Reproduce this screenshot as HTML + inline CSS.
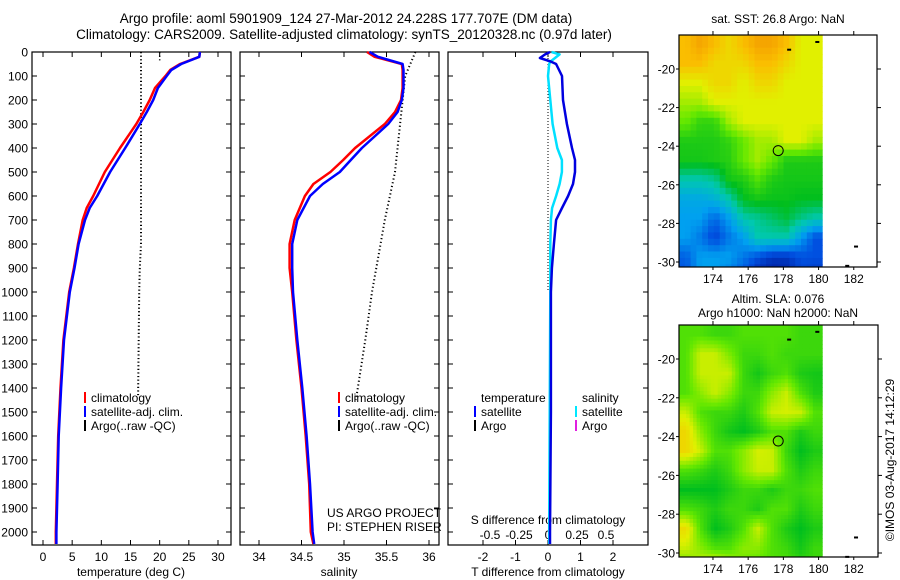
<!DOCTYPE html>
<html><head><meta charset="utf-8">
<style>
body{margin:0;background:#fff;}
svg{display:block;font-family:"Liberation Sans",sans-serif;}
text{fill:#000;}
</style></head>
<body>
<svg id="c" width="900" height="580" viewBox="0 0 900 580" xmlns="http://www.w3.org/2000/svg">
<defs>
<clipPath id="clip-sst"><rect x="679" y="35" width="198" height="232"/></clipPath>
<clipPath id="clip-sla"><rect x="679" y="325" width="199" height="232"/></clipPath>
</defs>
<g font-size="13.5" text-anchor="middle">
<text x="346" y="23">Argo profile: aoml 5901909_124 27-Mar-2012 24.228S 177.707E (DM data)</text>
<text x="344" y="39">Climatology: CARS2009. Satellite-adjusted climatology: synTS_20120328.nc (0.97d later)</text>
</g>
<text x="778" y="23" font-size="12" text-anchor="middle">sat. SST: 26.8 Argo: NaN</text>
<text x="778" y="303" font-size="12" text-anchor="middle">Altim. SLA: 0.076</text>
<text x="778" y="317" font-size="12" text-anchor="middle">Argo h1000: NaN h2000: NaN</text>
<text transform="translate(894,460) rotate(-90)" font-size="12" text-anchor="middle">©IMOS 03-Aug-2017 14:12:29</text>
</svg>
<script>
// ---- profile data ----
const depths = [0,20,50,75,100,150,200,250,300,400,500,600,650,700,800,900,1000,1200,1400,1600,1800,2000,2050];
const tempClim = [26.9,26.8,23.5,21.8,21.0,19.2,18.3,17.2,16.0,13.2,10.6,8.6,7.5,6.8,6.0,5.3,4.5,3.5,3.0,2.6,2.4,2.2,2.2];
const tempSat  = [26.9,26.8,23.7,22.0,21.2,19.7,18.9,17.8,16.6,14.1,11.5,9.3,8.0,7.2,6.1,5.4,4.6,3.6,3.1,2.7,2.5,2.3,2.3];
const argoTempDepths = [0,300,600,800,900,1000,1200,1430];
const argoTemp = [16.8,16.8,16.8,16.8,16.6,16.5,16.4,16.3];
const salDepths = [0,20,50,75,100,150,200,250,300,400,450,500,550,600,700,800,900,1000,1200,1400,1600,1800,2000,2050];
const salClim = [35.27,35.36,35.68,35.69,35.69,35.69,35.67,35.60,35.48,35.13,34.99,34.84,34.64,34.54,34.42,34.36,34.36,34.39,34.44,34.50,34.55,34.59,34.61,34.64];
const salSat  = [35.30,35.40,35.69,35.70,35.70,35.70,35.68,35.63,35.52,35.21,35.08,34.95,34.75,34.60,34.45,34.39,34.39,34.40,34.45,34.51,34.56,34.60,34.63,34.65];
const argoSalDepths = [0,100,300,500,700,900,1000,1200,1450];
const argoSal = [35.84,35.72,35.66,35.60,35.48,35.38,35.33,35.25,35.14];
const diffDepths = [0,10,25,40,50,100,200,300,400,450,500,550,600,650,700,800,900,1000,1500,2000,2050];
const tDiffSat = [0.06,-0.09,-0.25,0.09,0.25,0.43,0.46,0.58,0.74,0.83,0.83,0.77,0.62,0.43,0.25,0.18,0.12,0.09,0.09,0.06,0.06];
const sDiffSat = [0.03,0.10,0.06,0.02,0.01,0.0,0.02,0.04,0.08,0.12,0.12,0.10,0.07,0.035,0.025,0.02,0.02,0.02,0.015,0.01,0.01];
const depthTicks = [0,100,200,300,400,500,600,700,800,900,1000,1100,1200,1300,1400,1500,1600,1700,1800,1900,2000];
const tempTicks = [0,5,10,15,20,25,30];
const salTicks = [34,34.5,35,35.5,36];
const tDiffTicks = [-2,-1,0,1,2];
const sDiffTicks = [-0.5,-0.25,0,0.25,0.5];
const latTicks = [-20,-22,-24,-26,-28,-30];
const lonTicks = [174,176,178,180,182];
// ---- map grids (10 cols lon 172.07-180.2, 13 rows 1 deg from top) ----
const sstGrid = [
[7,7.5,7,6.5,7,7.5,7.5,7,6,6],[7,7,6.5,6.5,6.5,7,7,6.5,6,6],[6,6,6.5,6.5,6,6.5,6.5,6,6,6],[5.5,5.5,6,6,6,6,6,6,6,6],
[5,4.5,4.5,5.5,6,6,6,6,6,6],[4.3,4.3,4.3,4.5,5,5.5,5.5,6,6,5.5],[4.2,4.2,4.3,4.4,5,5.5,5,4.3,4.3,4.3],[3,3,3.2,4.2,4.3,4.8,4.3,4.2,4.2,4.2],
[2.2,2.2,2.4,3,4,4.2,4.1,4.1,4,4],[2,2,1.3,2,3,3.2,3.5,3.8,3.3,3],[2,1.5,0.8,1.5,2,3,3,3,2,1],[1.2,2,2,2,1.5,1,0.6,0.6,1,1],[1,2,2,1.5,1,0.3,0.2,0.3,0.8,0.6]];
const slaGrid = [
[4.8,4.8,4.6,4.6,4.8,4.8,4.8,4.8,4.6,4.6],[4.8,5.8,5.8,5.2,4.6,4.6,4.8,4.6,4.6,4.6],[4.8,5.8,5.8,5.8,4.6,4.2,4.6,4.8,4.3,4.2],[4.8,5.3,5.8,5.3,4.6,4.6,5.3,5.8,4.8,4.3],
[5.8,4.8,4.6,4.6,4.3,4.8,5.8,5.9,5.8,4.8],[6.5,5.3,4.6,4.2,4,4.3,4.8,4.8,4.3,4.6],[6.5,5.8,4.8,4.8,5.3,5.9,5.8,4.6,4,4.3],[4.8,4.6,4.3,4.6,5.3,5.8,5.8,4.8,4.3,4.6],
[4,4,4,4.3,4.6,4.6,4.3,4.6,4.6,4.8],[4.8,4.6,4.3,4.6,4.6,4.3,4.8,4.8,4.3,4.6],[6.4,4.8,4,4.3,4.8,5.8,4.8,4.3,4,4.3],[5.8,5.3,4.8,4.8,5.3,5.3,4.8,4.6,4.2,4.6],[5,5.8,6.3,5.8,5,4.8,4.8,4.8,4.6,4.6]];
const argoLon = 177.707, argoLat = -24.228, sstValue = 26.8;

const S = document.getElementById('c');
const NS = 'http://www.w3.org/2000/svg';
function mk(tag, attrs, parent){const e=document.createElementNS(NS,tag);for(const k in attrs)e.setAttribute(k,attrs[k]);(parent||S).appendChild(e);return e;}
function txt(x,y,s,anchor,size,parent){const t=mk('text',{x:x,y:y,'font-size':size||12,'text-anchor':anchor||'start'},parent);t.textContent=s;return t;}

const TOP=52, BOT=545;
const yD = d => TOP + d*0.24;
const panels = [
 {x0:32,x1:231, f:v=>43+v*5.833},
 {x0:240,x1:439, f:v=>259+(v-34)*85},
 {x0:448,x1:648, f:v=>548+v*32.5}
];
const sx = v=>548+v*116;

function line(xs, ds, f, color, w, dash, name, parent){
  const p = xs.map((v,i)=>(f(v)).toFixed(1)+','+yD(ds[i]).toFixed(1)).join(' ');
  const e = mk('polyline',{points:p,fill:'none',stroke:color,'stroke-width':w,'stroke-linejoin':'round'},parent);
  if(dash) e.setAttribute('stroke-dasharray',dash);
  
  
  return e;
}

panels.forEach((P,pi)=>{
  const g = mk('g',{});
  
  
  const fr = mk('rect',{x:P.x0,y:TOP,width:P.x1-P.x0,height:BOT-TOP,fill:'none',stroke:'#000','stroke-width':1.2},g);
  
  
  depthTicks.forEach(d=>{
    mk('line',{x1:P.x0,x2:P.x0+5,y1:yD(d),y2:yD(d),stroke:'#000'},g);
    mk('line',{x1:P.x1,x2:P.x1-5,y1:yD(d),y2:yD(d),stroke:'#000'},g);
    if(pi===0){const t=txt(28,yD(d)+4.5,String(d),'end',12,g);
      
      }
  });
});
function xTicks(ticks,f,y){
  ticks.forEach(v=>{const x=f(v);
    mk('line',{x1:x,x2:x,y1:TOP,y2:TOP+5,stroke:'#000'});
    mk('line',{x1:x,x2:x,y1:BOT,y2:BOT-5,stroke:'#000'});
    const t=txt(x,y,String(v),'middle',12);
    
    
  });
}
xTicks(tempTicks,panels[0].f,561);
xTicks(salTicks,panels[1].f,561);
xTicks(tDiffTicks,panels[2].f,561);
sDiffTicks.forEach(v=>{const t=txt(sx(v),539,String(v),'middle',12);
  
  });
[['temperature (deg C)',131],['salinity',339],['T difference from climatology',548]].forEach(a=>{
  const t=txt(a[1],576,a[0],'middle',12);
  
  });
{const t=txt(548,524,'S difference from climatology','middle',12);
 
 }

line(argoTemp,argoTempDepths,panels[0].f,'#000',2,'1.2,2.4','argo-temperature-line');
line([20,20],[0,35],panels[0].f,'#000',1.5,'1.2,2.4','argo-temperature-surface-dots');
line(tempClim,depths,panels[0].f,'#f00',2.5,null,'temperature-climatology-line');
line(tempSat,depths,panels[0].f,'#00f',2.5,null,'temperature-satellite-line');
line(argoSal,argoSalDepths,panels[1].f,'#000',2,'1.2,2.6','argo-salinity-line');
line(salClim,salDepths,panels[1].f,'#f00',2.5,null,'salinity-climatology-line');
line(salSat,salDepths,panels[1].f,'#00f',2.5,null,'salinity-satellite-line');
line([0,0],[0,1000],panels[2].f,'#000',1,'1,2','zero-difference-line');
line(sDiffSat,diffDepths,sx,'#00e0ff',2.5,null,'salinity-difference-line');
line(tDiffSat,diffDepths,panels[2].f,'#0000e0',2.5,null,'temperature-difference-line');

function legItem(x,y,color,label){
  const g=mk('g',{});
  
  
  mk('line',{x1:x,x2:x,y1:y-10,y2:y+1,stroke:color,'stroke-width':2},g);
  txt(x+6,y,label,'start',12,g);
}
[85,339].forEach(x=>{
  legItem(x,402,'#f00','climatology');
  legItem(x,416,'#00f','satellite-adj. clim.');
  legItem(x,430,'#000','Argo(..raw -QC)');
});
{const t=txt(481,402,'temperature','start',12);
 const t2=txt(582,402,'salinity','start',12);}
legItem(475,416,'#00f','satellite');
legItem(475,430,'#000','Argo');
legItem(576,416,'#00e8ff','satellite');
legItem(576,430,'#e020e0','Argo');
{const t=txt(327,517,'US ARGO PROJECT','start',12);
 const t2=txt(327,531,'PI: STEPHEN RISER','start',12);}

const cmapStops=[[0,[0,16,140]],[1,[0,80,224]],[2,[0,160,240]],[3,[0,200,176]],[4,[0,190,30]],[5,[100,232,0]],[6,[225,240,0]],[7,[250,190,0]],[8,[240,140,0]]];
function cmap(v){v=Math.max(0,Math.min(8,v));const i=Math.min(7,Math.floor(v)),f=v-i;
  const a=cmapStops[i][1],b=cmapStops[i+1][1];return 'rgb('+a.map((c,k)=>Math.round(c+(b[k]-c)*f)).join(',')+')';}
function bil(grid,r,c){const R=grid.length-1,C=grid[0].length-1;r=Math.max(0,Math.min(R,r));c=Math.max(0,Math.min(C,c));
  const r0=Math.floor(r),c0=Math.floor(c),r1=Math.min(R,r0+1),c1=Math.min(C,c0+1),fr=r-r0,fc=c-c0;
  return grid[r0][c0]*(1-fr)*(1-fc)+grid[r0][c1]*(1-fr)*fc+grid[r1][c0]*fr*(1-fc)+grid[r1][c1]*fr*fc;}
function drawMap(M,grid,cell,name,clip){
  const g=mk('g',{});
  
  
  const cg=mk('g',{'clip-path':'url(#'+clip+')'},g);
  const X=lon=>M.x0+(lon-172.07)*17.6, Y=lat=>M.yRef+(-20-lat)*M.k;
  const latTop=-20+(M.yRef-M.y0)/M.k;
  for(let lat=latTop;lat>-30.3;lat-=cell){
    for(let lon=172.07;lon<180.15;lon+=cell){
      const r=(latTop-lat)-0.5, c=(lon-172.07)/0.813-0.5;
      const v=bil(grid,r+cell/2,c+cell/2/0.813);
      const w=Math.min(cell,180.2-lon);
      const h=Math.min(cell,lat+30.3);
      const rc=mk('rect',{x:X(lon).toFixed(1),y:Y(lat).toFixed(1),width:(w*17.6+0.6).toFixed(1),height:(h*M.k+0.6).toFixed(1),fill:cmap(v)},cg);
      
      
    }
  }
  const fr=mk('rect',{x:M.x0,y:M.y0,width:M.x1-M.x0,height:M.y1-M.y0,fill:'none',stroke:'#000','stroke-width':1.2},g);
  
  
  latTicks.forEach(l=>{const y=Y(l);
    mk('line',{x1:M.x1,x2:M.x1+4,y1:y,y2:y,stroke:'#000'},g);
    mk('line',{x1:M.x0,x2:M.x0-3,y1:y,y2:y,stroke:'#000'},g);
    const t=txt(M.x0-4,y+4.5,String(l),'end',12,g);
    
    });
  lonTicks.forEach(l=>{const x=X(l);
    mk('line',{x1:x,x2:x,y1:M.y0,y2:M.y0-4,stroke:'#000'},g);
    mk('line',{x1:x,x2:x,y1:M.y1,y2:M.y1+3,stroke:'#000'},g);
    const t=txt(x,M.y1+16,String(l),'middle',12,g);
    
    });
  const c=mk('circle',{cx:X(argoLon),cy:Y(argoLat),r:5,fill:'none',stroke:'#000','stroke-width':1},g);
  
  
  [[178.3,-19.0],[179.9,-18.6],[182.1,-29.2],[181.6,-30.2]].forEach(p=>{
    const d=mk('rect',{x:X(p[0])-1.5,y:Y(p[1])-1,width:4,height:2,fill:'#000'},g);
    
    });
}
drawMap({x0:679,x1:877,y0:35,y1:267,yRef:69,k:19.3},sstGrid,0.33,'sst-map','clip-sst');
drawMap({x0:679,x1:878,y0:325,y1:557,yRef:359,k:19.4},slaGrid,0.2,'sla-map','clip-sla');
</script>
</body></html>
